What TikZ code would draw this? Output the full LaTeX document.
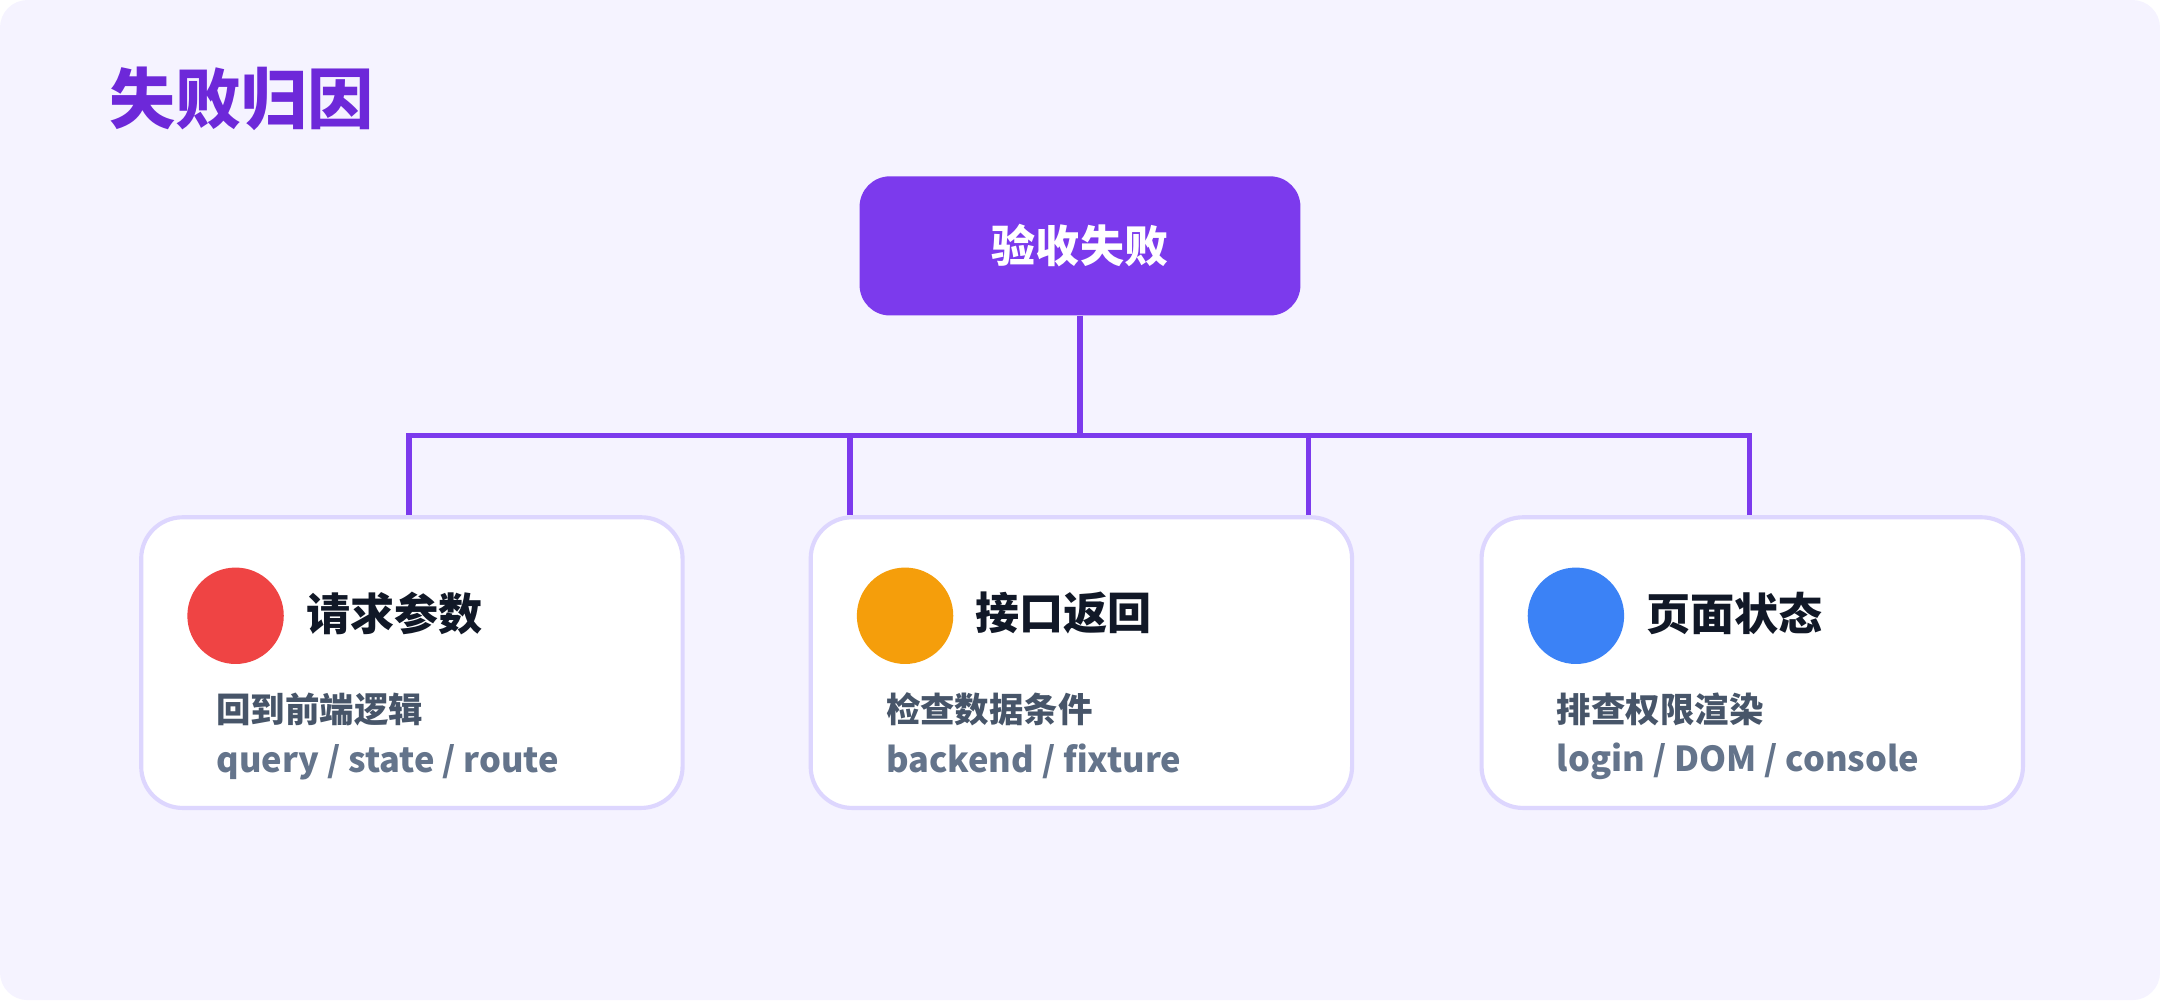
\documentclass[tikz,border=0pt]{standalone}
\usepackage{fontspec}
\setmainfont{Noto Sans CJK SC}
\newfontfamily\cjkb{Noto Sans CJK SC Bold}
\definecolor{bg}{HTML}{F5F3FF}
\definecolor{pur}{HTML}{7C3AED}
\definecolor{tpur}{HTML}{6D28D9}
\definecolor{bord}{HTML}{DDD6FE}
\definecolor{head}{HTML}{111827}
\definecolor{sub}{HTML}{475569}
\definecolor{tech}{HTML}{64748B}
\definecolor{cr}{HTML}{EF4444}
\definecolor{co}{HTML}{F59E0B}
\definecolor{cb}{HTML}{3B82F6}
\begin{document}
\begin{tikzpicture}[x=1pt,y=-1pt,
  card/.style={draw=bord,line width=3pt,fill=white,rounded corners=30pt,minimum width=393pt,minimum height=211pt,anchor=north west,inner sep=0},
  dot/.style={circle,minimum size=70pt,inner sep=0},
  hd/.style={anchor=west,font=\fontsize{32}{36}\selectfont\bfseries,text=head,inner sep=0},
  sb/.style={anchor=west,font=\fontsize{25}{30}\selectfont\bfseries,text=sub,inner sep=0},
  tc/.style={anchor=west,font=\fontsize{25}{30}\selectfont\bfseries,text=tech,inner sep=0},
  wire/.style={draw=pur,line width=4pt}]
\useasboundingbox (0,0) rectangle (1568,726);
\fill[bg,rounded corners=20pt] (0,0) rectangle (1568,726);
\node[anchor=west,inner sep=0,text=tpur,font=\fontsize{48}{52}\selectfont\bfseries] (title) at (79,72) {失败归因};
\node[fill=pur,rounded corners=22pt,minimum width=320pt,minimum height=101pt,inner sep=0,text=white,font=\fontsize{32}{36}\selectfont\bfseries] (root) at (784,178.5) {验收失败};
\node[card] (c1) at (101,374) {};
\node[card] (c2) at (587,374) {};
\node[card] (c3) at (1074,374) {};
\coordinate (j) at (784,316);
\coordinate (h1) at (297,316);
\coordinate (h2) at (617,316);
\coordinate (h3) at (950,316);
\coordinate (h4) at (1270,316);
\coordinate (t1) at (297,374);
\coordinate (t2) at (617,374);
\coordinate (t3) at (950,374);
\coordinate (t4) at (1270,374);
\draw[wire] (root.south) -- (j);
\draw[wire,line cap=rect] (h1) -- (h4);
\draw[wire] (h1) -- (t1);
\draw[wire] (h2) -- (t2);
\draw[wire] (h3) -- (t3);
\draw[wire] (h4) -- (t4);
\node[dot,fill=cr] (d1) at (171,447) {};
\node[dot,fill=co] (d2) at (657,447) {};
\node[dot,fill=cb] (d3) at (1144,447) {};
\node[hd] (n1) at (222,445) {请求参数};
\node[hd] (n2) at (708,445) {接口返回};
\node[hd] (n3) at (1195,445) {页面状态};
\node[sb] (s1) at (157,515) {回到前端逻辑};
\node[sb] (s2) at (643,515) {检查数据条件};
\node[sb] (s3) at (1130,515) {排查权限渲染};
\node[tc] (k1) at (157,553) {query / state / route};
\node[tc] (k2) at (643,553) {backend / fixture};
\node[tc] (k3) at (1130,553) {login / DOM / console};
\end{tikzpicture}
\end{document}
